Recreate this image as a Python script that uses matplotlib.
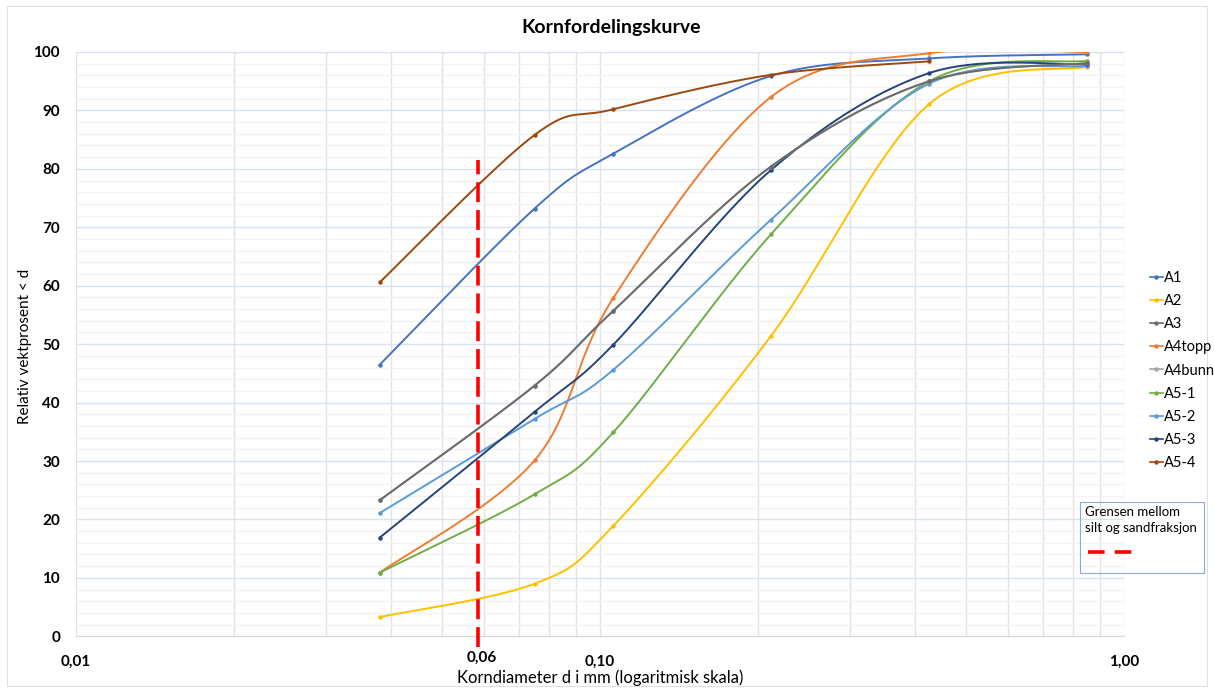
import numpy as np
import matplotlib.pyplot as plt
from matplotlib.lines import Line2D
from matplotlib.patches import Rectangle

plt.rcParams['font.family'] = ['Lato', 'DejaVu Sans']

# sikt-aapninger (mm)
d = [0.038, 0.075, 0.106, 0.212, 0.425, 0.85]

names = ["A1", "A2", "A3", "A4topp", "A4bunn", "A5-1", "A5-2", "A5-3", "A5-4"]
A1 = [46.5, 73.2, 82.6, 95.9, 98.9, 99.6]
A2 = [3.3, 9.0, 18.9, 51.4, 91.1, 97.5]
A3 = [23.3, 42.9, 55.7, 80.4, 95.0, 98.1]
A4topp = [10.9, 30.1, 57.9, 92.3, 99.8, 100.0]
A4bunn = [23.3, 42.9, 55.7, 80.4, 95.0, 98.1]
A5_1 = [10.9, 24.3, 34.9, 68.8, 95.0, 98.5]
A5_2 = [21.1, 37.2, 45.6, 71.3, 94.6, 97.6]
A5_3 = [16.9, 38.4, 49.9, 79.8, 96.4, 97.9]
A5_4 = [60.6, 85.8, 90.2, 96.1, 98.4]

series = [A1, A2, A3, A4topp, A4bunn, A5_1, A5_2, A5_3, A5_4]
colors = ["#4472C4", "#FFC000", "#6B6B6B", "#ED7D31", "#A5A5A5",
          "#70AD47", "#5B9BD5", "#264478", "#9E480E"]
zorders = [3, 3, 3.5, 3, 3.2, 3, 3, 3, 3]

grense = 0.0585  # silt / sand


def glatt(x, y, n=40):
    # bezier-glatting i (log x, y)
    p = np.column_stack([np.log10(x), y])
    k = len(p)
    t = np.linspace(0, 1, n)[:, None]
    deler = []
    for i in range(k - 1):
        p0, p1, p2, p3 = p[max(i - 1, 0)], p[i], p[i + 1], p[min(i + 2, k - 1)]
        c1 = p1 + (p2 - p0) / 6
        c2 = p2 - (p3 - p1) / 6
        seg = (1 - t)**3 * p1 + 3 * (1 - t)**2 * t * c1 + 3 * (1 - t) * t**2 * c2 + t**3 * p2
        deler.append(seg)
    s = np.vstack(deler)
    return 10**s[:, 0], s[:, 1]


fig = plt.figure(figsize=(12.14, 6.92), dpi=100)
ax = fig.add_axes([76/1214, 1 - 636.3/692, (1124 - 76)/1214, (636.3 - 52)/692])

for navn, y, c, z in zip(names, series, colors, zorders):
    x = d[:len(y)]
    xs, ys = glatt(x, y)
    ax.plot(xs, ys, color=c, lw=1.4, zorder=z)
    ax.plot(x, y, "o", color=c, ms=2.2, zorder=z)

ax.plot([grense, grense], [-1.8, 81.5], color="#FF0000", lw=2.6,
        linestyle=(0, (5.5, 2.2)), zorder=5, clip_on=False)

ax.set_xscale("log")
ax.set_xlim(0.01, 1.0)
ax.set_ylim(0, 100)

ax.set_xticks([0.01, 0.1, 1.0])
ax.set_xticklabels(["0,01", "0,10", "1,00"], fontweight="bold", fontsize=11)
ax.set_xticks([i * 0.01 for i in range(2, 10)] + [i * 0.1 for i in range(2, 10)], minor=True)
ax.set_yticks(range(0, 101, 10))
ax.set_yticks(range(0, 101, 2), minor=True)
ax.set_yticklabels([str(v) for v in range(0, 101, 10)], fontweight="bold", fontsize=11)
ax.tick_params(axis="x", which="both", length=0, pad=13.5)
ax.tick_params(axis="y", which="both", length=0, pad=11.5)
ax.xaxis.set_minor_formatter(plt.NullFormatter())
ax.text(0.0595, -0.024, "0,06", transform=ax.get_xaxis_transform(), ha="center",
        va="top", fontsize=11, fontweight="bold")

ax.grid(True, axis="x", which="both", color="#E3E3E3", lw=1)
ax.grid(True, axis="y", which="major", color="#D9E2F3", lw=1)
ax.grid(True, axis="y", which="minor", color="#F2F2F2", lw=1)
ax.set_axisbelow(True)
for s in ["top", "right", "left"]:
    ax.spines[s].set_visible(False)
ax.spines["bottom"].set_color("#D9D9D9")

fig.text(0.5035, 0.96, "Kornfordelingskurve", ha="center", va="center",
         fontsize=14, fontweight="bold")
fig.text(0.494, 0.02, "Korndiameter d i mm (logaritmisk skala)", ha="center",
         va="center", fontsize=12)
fig.text(0.021, 0.5, "Relativ vektprosent < d", rotation=90, ha="center",
         va="center", fontsize=11)

handles = [Line2D([], [], color=c, lw=1.2, marker="o", ms=2.2) for c in colors]
fig.legend(handles, names, loc="upper left", bbox_to_anchor=(1144/1214, 1 - 265/692),
           frameon=False, fontsize=10.5, handlelength=0.9, handletextpad=0.1,
           labelspacing=0.63, borderaxespad=0)

# forklaringsboks for grenselinjen
fig.patches.append(Rectangle((1080/1214, 1 - 573/692), 124/1214, 71/692,
                             transform=fig.transFigure, fill=False,
                             edgecolor="#8EAADB", lw=0.8))
fig.text(1085/1214, 1 - 506/692, "Grensen mellom\nsilt og sandfraksjon",
         ha="left", va="top", fontsize=9.5, linespacing=1.35)
fig.add_artist(Line2D([1088/1214, 1133/1214], [1 - 552/692, 1 - 552/692],
                      transform=fig.transFigure, color="#FF0000", lw=2.6,
                      linestyle=(0, (4.6, 2.8))))

fig.patches.append(Rectangle((7/1214, 6/692), 1200/1214, 680/692,
                             transform=fig.transFigure, fill=False,
                             edgecolor="#E0E0E0", lw=0.8))

fig.savefig("out.png", dpi=100)
